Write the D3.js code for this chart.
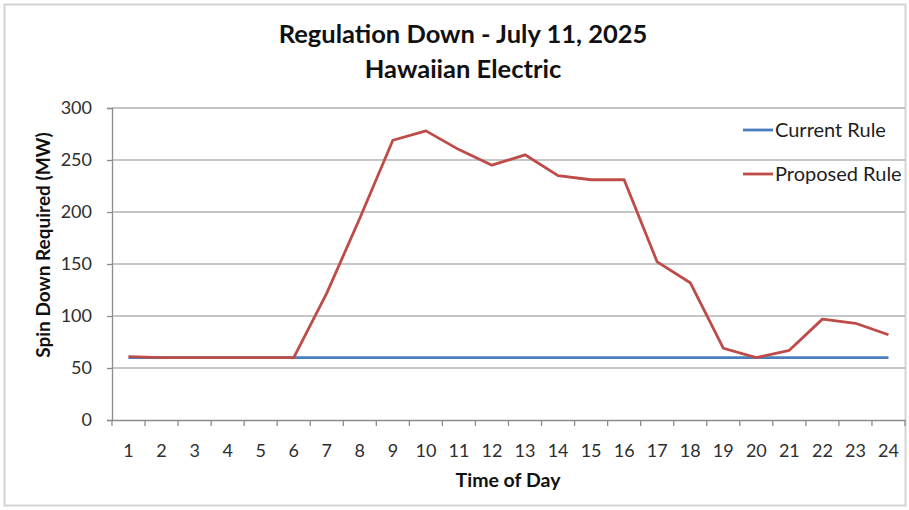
<!DOCTYPE html>
<html><head><meta charset="utf-8">
<script src="https://cdn.jsdelivr.net/npm/d3@7"></script>
<style>html,body{margin:0;padding:0;background:#fff;}svg{display:block;font-family:Lato,"Open Sans",sans-serif;}</style>
</head><body>
<svg id="c" width="909" height="510"></svg>
<script>
const hours = ["1","2","3","4","5","6","7","8","9","10","11","12","13","14","15","16","17","18","19","20","21","22","23","24"];
const currentRule = [60,60,60,60,60,60,60,60,60,60,60,60,60,60,60,60,60,60,60,60,60,60,60,60];
const proposedRule = [61,60,60,60,60,60,122,194,269,278,260,245,255,235,231,231,152,132,69,60,67,97,93,82];
const yTicks = [0,50,100,150,200,250,300];
const seriesNames = ["Current Rule","Proposed Rule"];
const seriesColors = ["#4a7ebb","#be4b48"];

const svg = d3.select("#c");
const M = {l:112, r:905, t:108, b:420};
svg.append("rect").attr("x",4.5).attr("y",4.5).attr("width",901).attr("height",501)
  .attr("fill","none").attr("stroke","#d4d4d4").attr("stroke-width",2);

const x = d3.scaleBand().domain(hours).range([M.l, M.r]);
const y = d3.scaleLinear().domain([0,300]).range([M.b, M.t]);

// gridlines
svg.append("g").selectAll("line").data(yTicks.filter(d=>d>0)).join("line")
  .attr("x1",M.l).attr("x2",M.r).attr("y1",d=>y(d)).attr("y2",d=>y(d))
  .attr("stroke","#b3b3b3").attr("stroke-width",1.3);

// y axis
const ya = svg.append("g").attr("transform",`translate(${M.l},0)`)
  .call(d3.axisLeft(y).tickValues(yTicks).tickSize(5).tickPadding(15));
ya.select(".domain").attr("stroke","#8c8c8c").attr("stroke-width",1.3);
ya.selectAll(".tick line").attr("stroke","#8c8c8c").attr("stroke-width",1.3);
ya.selectAll("text").attr("font-size",18).attr("fill","#2e2e2e").attr("font-family","Lato,sans-serif");

// x axis
const xa = svg.append("g").attr("transform",`translate(0,${M.b})`)
  .call(d3.axisBottom(x).tickSize(0).tickPadding(24));
xa.select(".domain").attr("stroke","#8c8c8c").attr("stroke-width",1.3);
xa.selectAll("text").attr("font-size",18).attr("fill","#2e2e2e").attr("font-family","Lato,sans-serif");
// tick marks at band boundaries
const bounds = hours.map(h=>x(h)).concat([x(hours[hours.length-1])+x.bandwidth()]);
xa.append("g").selectAll("line").data(bounds).join("line")
  .attr("x1",d=>d).attr("x2",d=>d).attr("y1",0).attr("y2",6)
  .attr("stroke","#8c8c8c").attr("stroke-width",1.3);

// lines
const line = d3.line().x((d,i)=>x(hours[i])+x.bandwidth()/2).y(d=>y(d));
[currentRule, proposedRule].forEach((s,k)=>{
  svg.append("path").datum(s).attr("d",line).attr("fill","none")
    .attr("stroke",seriesColors[k]).attr("stroke-width",2.8).attr("stroke-linejoin","round");
});

// legend
seriesNames.forEach((n,k)=>{
  const ly = 130 + k*44;
  svg.append("line").attr("x1",743).attr("x2",773).attr("y1",ly).attr("y2",ly)
    .attr("stroke",seriesColors[k]).attr("stroke-width",2.8);
  svg.append("text").attr("x",775).attr("y",ly).attr("dy","0.35em")
    .attr("font-size",20).attr("fill","#1e1e1e").text(n);
});

// titles
svg.append("text").attr("x",463).attr("y",43).attr("text-anchor","middle")
  .attr("font-size",25.5).attr("font-weight","bold").attr("fill","#111").text("Regulation Down - July 11, 2025");
svg.append("text").attr("x",463).attr("y",78).attr("text-anchor","middle")
  .attr("font-size",25.5).attr("font-weight","bold").attr("fill","#111").text("Hawaiian Electric");
svg.append("text").attr("x",508).attr("y",487).attr("text-anchor","middle")
  .attr("font-size",19.5).attr("font-weight","bold").attr("fill","#111").text("Time of Day");
svg.append("text").attr("transform","translate(50,245) rotate(-90)").attr("text-anchor","middle")
  .attr("font-size",19).attr("font-weight","bold").attr("fill","#111").text("Spin Down Required (MW)");
</script>
</body></html>
